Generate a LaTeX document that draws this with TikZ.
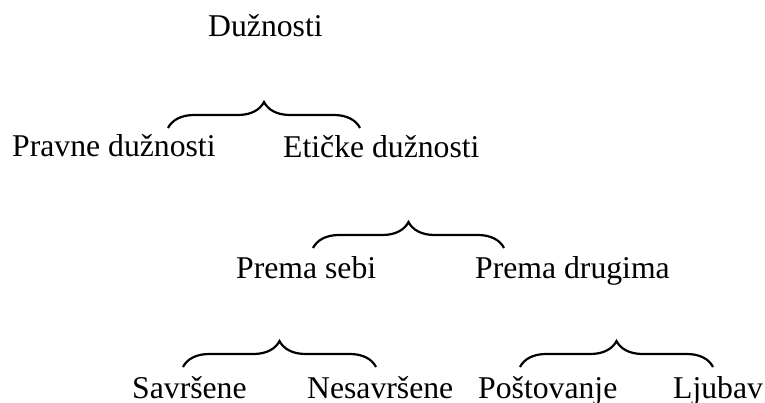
\documentclass[tikz,border=0pt]{standalone}
\usepackage{fontspec}
\setmainfont{Liberation Serif}
\usetikzlibrary{decorations.pathreplacing}

\tikzset{
  word/.style={anchor=base west, inner sep=0pt, font=\fontsize{31.7}{38}\selectfont},
  curly/.style={decorate, decoration={brace, amplitude=26pt}, line width=2.2pt},
}

\begin{document}
\begin{tikzpicture}[x=1pt,y=-1pt]

        \useasboundingbox (0,0) rectangle (765,403);

        % Top
        \node[word] (duznosti) at (208,37) {Dužnosti};

        % First level
        \coordinate (b1l) at (168,128);
        \coordinate (b1r) at (360,128);
        \draw[curly] (b1l) -- (b1r);
        \node[word] (pravne) at (12,157) {Pravne dužnosti};
        \node[word] (eticke) at (283,157.5) {Etičke dužnosti};

        % Second level
        \coordinate (b2l) at (313,248);
        \coordinate (b2r) at (504,248);
        \draw[curly] (b2l) -- (b2r);
        \node[word] (sebi) at (236,278) {Prema sebi};
        \node[word] (drugima) at (475,278) {Prema drugima};

        % Third level
        \coordinate (b3l) at (183,367);
        \coordinate (b3r) at (376,367);
        \draw[curly] (b3l) -- (b3r);
        \coordinate (b4l) at (520,367);
        \coordinate (b4r) at (713,367);
        \draw[curly] (b4l) -- (b4r);

        % Labels
        \node[word] (savrsene) at (132,398) {Savršene};
        \node[word] (nesavrsene) at (307,398) {Nesavršene};
        \node[word] (postovanje) at (478,398) {Poštovanje};
        \node[word] (ljubav) at (673,398) {Ljubav};

\end{tikzpicture}
\end{document}
